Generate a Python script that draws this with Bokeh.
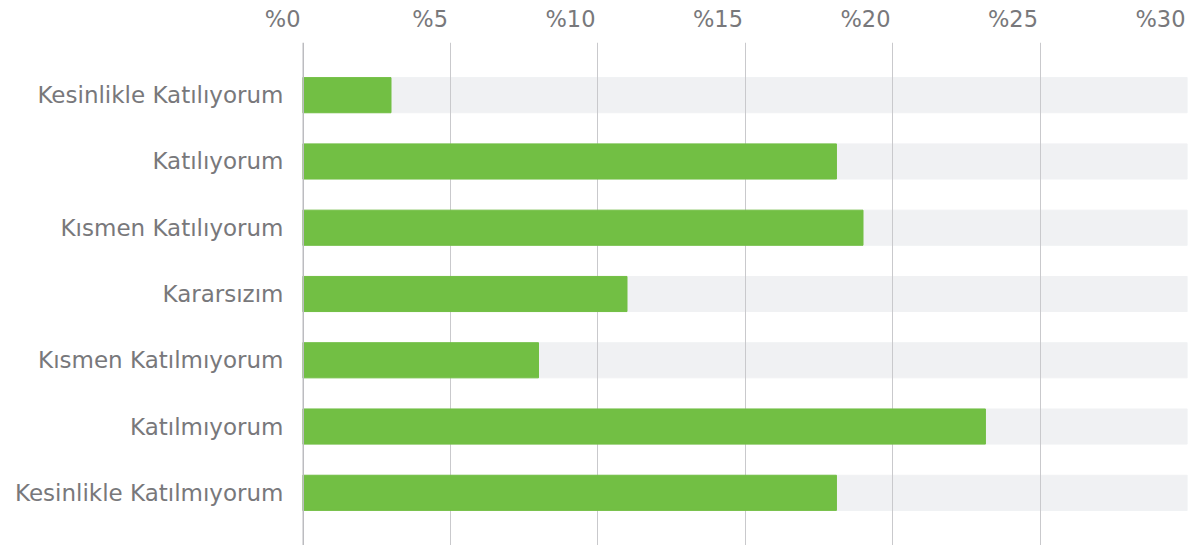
from bokeh.plotting import figure
from bokeh.layouts import column
from bokeh.models import Range1d, FactorRange, Span, FixedTicker, ColumnDataSource
from bokeh.core.properties import value
from bokeh.embed import file_html
from bokeh.resources import INLINE

categories = ["Kesinlikle Katılıyorum", "Katılıyorum", "Kısmen Katılıyorum", "Kararsızım",
              "Kısmen Katılmıyorum", "Katılmıyorum", "Kesinlikle Katılmıyorum"]
values = [3.0, 18.1, 19.0, 11.0, 8.0, 23.15, 18.1]
max_value = 30
tick_values = [0, 5, 10, 15, 20, 25, 30]
tick_labels = ["%0", "%5", "%10", "%15", "%20", "%25", "%30"]

FONT = "DejaVu Sans"
TXT = "#78787b"
PAD = 0.59 / 7
W = 1189
HEADER_H = 42
MAIN_H = 545 - HEADER_H
LEFT = 302
RIGHT_BORDER = 2

src = ColumnDataSource(dict(cat=categories, val=values, full=[max_value] * len(categories)))

p = figure(width=W, height=MAIN_H, output_backend="svg", toolbar_location=None,
           y_range=FactorRange(factors=list(reversed(categories)), range_padding=PAD),
           x_range=Range1d(0, max_value), x_axis_location=None,
           min_border_left=LEFT, min_border_right=RIGHT_BORDER, min_border_top=0, min_border_bottom=0)
p.frame_align = False
p.outline_line_color = None
p.background_fill_color = "white"
p.border_fill_color = "white"

# background bars
p.hbar(y="cat", left=0, right="full", height=0.53, source=src, color="#f0f1f3", level="image")
# value bars
p.hbar(y="cat", left=0, right="val", height=0.53, source=src, color="#72bf44")

p.xgrid.ticker = FixedTicker(ticks=tick_values)
p.xgrid.grid_line_color = "#c9c9cc"
p.xgrid.grid_line_width = 1
p.ygrid.grid_line_color = None

zero = Span(location=0, dimension="height", line_color="#bcbcc0", line_width=3, level="overlay")
p.add_layout(zero)

ya = p.yaxis[0]
ya.axis_line_color = None
ya.major_tick_line_color = None
ya.minor_tick_line_color = None
ya.major_label_text_font = FONT
ya.major_label_text_font_size = "23px"
ya.major_label_text_color = TXT
ya.major_label_standoff = 13

# header strip carrying the top tick labels, right-aligned at their tick
frame_w = W - LEFT - RIGHT_BORDER
px_per_unit = frame_w / max_value
h = figure(width=W, height=HEADER_H, output_backend="svg", toolbar_location=None,
           x_range=Range1d(-LEFT / px_per_unit, max_value), y_range=Range1d(0, 1),
           x_axis_location=None, y_axis_location=None,
           min_border_left=0, min_border_right=RIGHT_BORDER, min_border_top=0, min_border_bottom=0)
h.frame_align = False
h.outline_line_color = None
h.xgrid.grid_line_color = None
h.ygrid.grid_line_color = None
h.text(x=tick_values, y=[0.57] * len(tick_values), text=tick_labels,
       text_align="right", text_baseline="middle", text_font=value(FONT),
       text_font_size="22.5px", text_color=TXT, x_offset=-2)

layout = column(h, p, spacing=0)
open("out.html", "w").write(file_html(layout, INLINE))
